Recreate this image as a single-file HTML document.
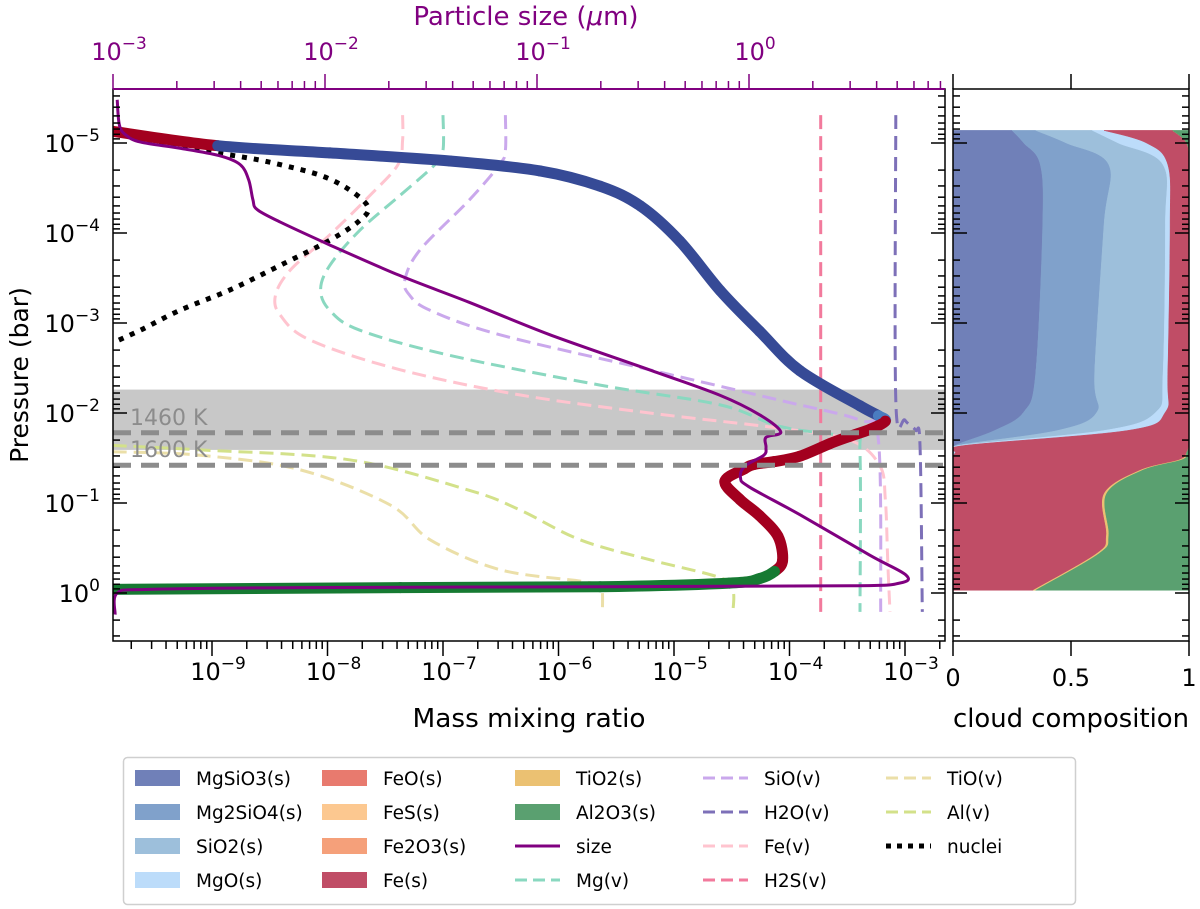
<!DOCTYPE html>
<html><head><meta charset="utf-8">
<style>
html,body{margin:0;padding:0;background:#fff;}
svg{display:block;font-family:"DejaVu Sans","Liberation Sans",sans-serif;}
</style></head>
<body>
<svg id="chart" width="1200" height="909" viewBox="0 0 1200 909" xmlns="http://www.w3.org/2000/svg">
<defs>
<clipPath id="mainclip"><rect x="113" y="89" width="832" height="552"/></clipPath>
<clipPath id="rightclip"><rect x="953" y="89" width="236" height="552"/></clipPath>
</defs>
<g id="main" clip-path="url(#mainclip)"></g>
<g id="right" clip-path="url(#rightclip)"></g>
<g id="axes"></g>
<text x="529" y="727" font-size="26" text-anchor="middle" textLength="233" lengthAdjust="spacingAndGlyphs">Mass mixing ratio</text>
<text x="1071" y="727" font-size="26" text-anchor="middle" textLength="236" lengthAdjust="spacingAndGlyphs">cloud composition</text>
<text x="526" y="25" font-size="26" text-anchor="middle" fill="#800080">Particle size (<tspan font-style="italic">μ</tspan>m)</text>
<text transform="translate(28,375) rotate(-90)" font-size="25" text-anchor="middle">Pressure (bar)</text>
<g id="legend"></g>
</svg>
<script>
// ---------- data (log10 values) ----------
const cloudLogX = [-9.86,-8.95,-7.98,-6.94,-6.16,-5.64,-5.29,-4.95,-4.60,-4.26,-3.91,-3.39,-3.23,-3.17,-3.30,-3.48,-3.65,-3.91,-4.13,-4.30,-4.39,-4.56,-4.43,-4.26,-4.10,-4.06,-4.13,-4.26,-4.52,-5.64,-7.37,-9.86];
const cloudLogP = [-5.13,-4.97,-4.89,-4.80,-4.69,-4.52,-4.30,-3.91,-3.36,-2.91,-2.47,-2.08,-1.97,-1.91,-1.82,-1.74,-1.66,-1.52,-1.46,-1.43,-1.38,-1.24,-1.04,-0.86,-0.63,-0.36,-0.24,-0.16,-0.11,-0.07,-0.06,-0.04];
const cloudPhase = ["Fe","MgSiO3","MgSiO3","MgSiO3","MgSiO3","MgSiO3","MgSiO3","MgSiO3","MgSiO3","MgSiO3","MgSiO3","MgSiO3","Mg2SiO4","Fe","Fe","Fe","Fe","Fe","Fe","Fe","Fe","Fe","Fe","Fe","Fe","Fe","Al2O3","Al2O3","Al2O3","Al2O3","Al2O3","Al2O3"];
const sizeLogS = [-2.98,-2.97,-2.94,-2.87,-2.68,-2.50,-2.40,-2.36,-2.34,-2.32,-2.21,-1.98,-1.65,-1.32,-0.94,-0.47,-0.14,0.05,0.15,0.08,0.08,0.07,-0.02,-0.04,0.00,0.24,0.57,0.74,0.71,0.48,-0.70,-2.12,-2.83,-2.98,-2.99];
const sizeLogP = [-5.48,-5.20,-5.09,-5.01,-4.94,-4.86,-4.76,-4.59,-4.37,-4.26,-4.12,-3.87,-3.53,-3.23,-2.87,-2.48,-2.20,-1.98,-1.79,-1.73,-1.62,-1.53,-1.41,-1.28,-1.18,-0.87,-0.42,-0.20,-0.11,-0.08,-0.07,-0.06,-0.04,0.00,0.24];
const nucLogX = [-9.86,-9.54,-9.10,-8.67,-8.41,-8.06,-7.81,-7.65,-7.72,-7.98,-8.41,-8.84,-9.28,-9.62,-9.86];
const nucLogP = [-5.14,-5.03,-4.92,-4.83,-4.76,-4.64,-4.48,-4.29,-4.14,-3.92,-3.64,-3.37,-3.14,-2.92,-2.78];
const feLogX = [-7.35,-7.35,-7.39,-7.63,-7.98,-8.32,-8.45,-8.41,-8.15,-7.37,-6.33,-5.21,-4.08,-3.48,-3.22,-3.17,-3.15,-3.13];
const feLogP = [-5.31,-5.03,-4.76,-4.42,-3.98,-3.59,-3.31,-3.09,-2.81,-2.48,-2.20,-2.00,-1.83,-1.70,-1.42,-1.03,-0.37,0.21];
const mgLogX = [-7.00,-7.00,-7.07,-7.37,-7.72,-7.98,-8.06,-7.98,-7.72,-6.94,-5.64,-4.60,-4.08,-3.45,-3.39,-3.39];
const mgLogP = [-5.31,-4.92,-4.76,-4.42,-4.03,-3.64,-3.37,-3.14,-2.92,-2.64,-2.31,-2.09,-1.85,-1.72,-1.55,0.21];
const sioLogX = [-6.46,-6.46,-6.51,-6.77,-7.20,-7.33,-7.29,-7.11,-6.51,-5.21,-4.08,-3.39,-3.23,-3.21];
const sioLogP = [-5.31,-4.92,-4.76,-4.37,-3.81,-3.48,-3.31,-3.14,-2.87,-2.48,-2.14,-1.92,-1.70,0.21];
const h2oLogX = [-3.08,-3.08,-3.00,-2.91,-2.87,-2.85];
const h2oLogP = [-5.31,-2.14,-1.92,-1.81,-1.64,0.21];
const h2sLogX = [-3.73,-3.73];
const h2sLogP = [-5.31,0.21];
const tioLogX = [-9.86,-9.10,-8.24,-7.46,-7.11,-6.51,-5.80,-5.64,-5.62,-5.62];
const tioLogP = [-1.57,-1.53,-1.37,-0.98,-0.59,-0.26,-0.13,-0.08,0.00,0.21];
const alLogX = [-9.86,-9.10,-7.81,-6.77,-6.33,-5.81,-5.21,-4.60,-4.49,-4.49];
const alLogP = [-1.64,-1.59,-1.48,-1.14,-0.92,-0.59,-0.37,-0.17,-0.03,0.21];
const bandLogP = [-2.26,-1.59];
const isothermLogP = [-1.78,-1.42];
const isothermLabels = ["1460 K","1600 K"];
// composition panel
const compLogP = [-5.14,-5.00,-4.76,-4.09,-2.43,-2.01,-1.81,-1.64,-1.56,-1.48,-1.36,-1.10,-0.64,-0.44,-0.03];
const fMgSiO3 = [0.25,0.30,0.37,0.38,0.35,0.30,0.18,0.01,0,0,0,0,0,0,0];
const fMg2SiO4 = [0.10,0.18,0.29,0.26,0.25,0.31,0.27,0.01,0,0,0,0,0,0,0];
const fSiO2 = [0.24,0.22,0.23,0.26,0.29,0.25,0.20,0.01,0.005,0,0,0,0,0,0];
const fMgO = [0.05,0.12,0.02,0.02,0.02,0.04,0.10,0.02,0.005,0,0,0,0,0,0];
const fFe = [0.29,0.17,0.09,0.08,0.09,0.10,0.25,0.95,0.98,0.96,0.79,0.64,0.65,0.61,0.34];
const fTiO2 = [0,0,0,0,0,0,0,0,0,0.01,0.01,0.01,0.01,0.01,0.01];
const fAl2O3 = [0.07,0.01,0,0,0,0,0,0,0.01,0.03,0.20,0.35,0.34,0.38,0.65];
// ticks
const xMajor = [-9,-8,-7,-6,-5,-4,-3];
const xTickLabels = ["\u22129","\u22128","\u22127","\u22126","\u22125","\u22124","\u22123"];
const yMajor = [-5,-4,-3,-2,-1,0];
const yTickLabels = ["\u22125","\u22124","\u22123","\u22122","\u22121","0"];
const sMajor = [-3,-2,-1,0];
const sTickLabels = ["\u22123","\u22122","\u22121","0"];
const cTicks = [0,0.5,1];
const cTickLabels = ["0","0.5","1"];

// ---------- axis functions ----------
const X = v => 905 + (v + 3) * 115.5;
const Y = v => 143 + (v + 5) * 90;
const S = v => 113 + (v + 3) * 212;
const C = f => 953 + f * 236;
const NS = "http://www.w3.org/2000/svg";
function mk(tag, attrs, parent){const e=document.createElementNS(NS,tag);for(const k in attrs)e.setAttribute(k,attrs[k]);parent.appendChild(e);return e;}
function smooth(pts){
  if(pts.length<3) return "M"+pts.map(p=>p[0].toFixed(1)+","+p[1].toFixed(1)).join("L");
  let d="M"+pts[0][0].toFixed(1)+","+pts[0][1].toFixed(1);
  for(let i=0;i<pts.length-1;i++){
    const p0=pts[Math.max(i-1,0)],p1=pts[i],p2=pts[i+1],p3=pts[Math.min(i+2,pts.length-1)];
    const c1=[p1[0]+(p2[0]-p0[0])/6,p1[1]+(p2[1]-p0[1])/6];
    const c2=[p2[0]-(p3[0]-p1[0])/6,p2[1]-(p3[1]-p1[1])/6];
    d+="C"+c1[0].toFixed(1)+","+c1[1].toFixed(1)+" "+c2[0].toFixed(1)+","+c2[1].toFixed(1)+" "+p2[0].toFixed(1)+","+p2[1].toFixed(1);
  }
  return d;
}
const main=document.getElementById("main"), right=document.getElementById("right"), axes=document.getElementById("axes"), legend=document.getElementById("legend");

// band & isotherms
const band=mk("rect",{x:113,y:Y(bandLogP[0]),width:832,height:Y(bandLogP[1])-Y(bandLogP[0]),fill:"#c8c8c8"},main);



function line(xs,ps,fx,color,w,dash,name){
  const pts=xs.map((v,i)=>[fx(v),Y(ps[i])]);
  const p=mk("path",{d:smooth(pts),fill:"none",stroke:color,"stroke-width":w},main);
  if(dash)p.setAttribute("stroke-dasharray",dash);
  
  
  return p;
}
line(tioLogX,tioLogP,X,"#ebdfa8",3,"14,7","tio-vapor-line");
line(alLogX,alLogP,X,"#d3e18a",3,"14,7","al-vapor-line");
line(feLogX,feLogP,X,"#ffc4cf",3,"14,7","fe-vapor-line");
line(mgLogX,mgLogP,X,"#8ad8c0",3,"14,7","mg-vapor-line");
line(sioLogX,sioLogP,X,"#caa8ec",3,"14,7","sio-vapor-line");
line(h2oLogX,h2oLogP,X,"#7d70b8",3,"14,7","h2o-vapor-line");
line(h2sLogX,h2sLogP,X,"#f27a9c",3,"14,7","h2s-vapor-line");
line(nucLogX,nucLogP,X,"#000",5,"5,7","nuclei-line");

// cloud mass thick line coloured by phase
const phaseColor={Fe:"#a3001f",MgSiO3:"#364a96",Mg2SiO4:"#4a7cc0",Al2O3:"#167a32"};
for(let i=0;i<cloudLogX.length-1;i++){
  const pts=[];
  for(let j=Math.max(i-1,0);j<=Math.min(i+2,cloudLogX.length-1);j++)pts.push([X(cloudLogX[j]),Y(cloudLogP[j])]);
  const off=i>0?1:0;
  const p0=pts[Math.max(off-1,0)],p1=pts[off],p2=pts[off+1],p3=pts[Math.min(off+2,pts.length-1)];
  const c1=[p1[0]+(p2[0]-p0[0])/6,p1[1]+(p2[1]-p0[1])/6],c2=[p2[0]-(p3[0]-p1[0])/6,p2[1]-(p3[1]-p1[1])/6];
  const seg=mk("path",{d:`M${p1[0]},${p1[1]}C${c1[0]},${c1[1]} ${c2[0]},${c2[1]} ${p2[0]},${p2[1]}`,fill:"none",stroke:phaseColor[cloudPhase[i]],"stroke-width":11,"stroke-linecap":"round"},main);
  
  
}
line(sizeLogS,sizeLogP,S,"#800080",3,null,"particle-size-line");

isothermLogP.forEach((v,i)=>{
  const l=mk("line",{x1:113,x2:945,y1:Y(v),y2:Y(v),stroke:"#8c8c8c","stroke-width":5,"stroke-dasharray":"18,10"},main);
  
  
  const t=mk("text",{x:130,y:Y(v)-8,"font-size":22,fill:"#8c8c8c"},main);
  t.textContent=isothermLabels[i];
  
  
});

// composition stacked areas
const species=[["MgSiO3",fMgSiO3,"#7080b8"],["Mg2SiO4",fMg2SiO4,"#80a1cb"],["SiO2",fSiO2,"#9dbfdb"],["MgO",fMgO,"#bcdcfa"],["Fe",fFe,"#c04d66"],["TiO2",fTiO2,"#ebc172"],["Al2O3",fAl2O3,"#5aa070"]];
let cum=compLogP.map(()=>0);
species.forEach(([name,arr,col])=>{
  const lo=cum.slice(); cum=cum.map((c,i)=>c+arr[i]);
  const hiPts=cum.map((c,i)=>[C(Math.min(c,1)),Y(compLogP[i])]);
  const loPts=lo.map((c,i)=>[C(Math.min(c,1)),Y(compLogP[i])]).reverse();
  let d=smooth(hiPts);
  d+="L"+smooth(loPts).slice(1)+"Z";
  const p=mk("path",{d:d,fill:col,stroke:col,"stroke-width":0.5},right);
  
  
});

// ---------- axes ----------
function ax(tag,attrs){const e=mk(tag,attrs,axes);return e;}
const frames=[[113,89,832,552,"main-frame"],[953,89,236,552,"composition-frame"]];
frames.forEach(f=>{const r=ax("rect",{x:f[0],y:f[1],width:f[2],height:f[3],fill:"none",stroke:"#000","stroke-width":1.5});});
const topSpine=ax("line",{x1:113,x2:945,y1:89,y2:89,stroke:"#800080","stroke-width":2});


function tk(x1,y1,x2,y2,col){const l=ax("line",{x1,y1,x2,y2,stroke:col||"#000","stroke-width":1.5});}
function pow(x,y,exp,col,anchor){
  const t=ax("text",{x,y,"font-size":24,"text-anchor":anchor||"middle",fill:col||"#000"});
  t.innerHTML=`10<tspan dy="-11" font-size="17">${exp}</tspan>`;
  
  
  return t;
}
// x ticks (bottom)
for(let d=-10;d<=-3;d++){for(let m=1;m<10;m++){const v=d+Math.log10(m);const px=X(v);if(px<113||px>945)continue;tk(px,641,px,641+(m==1?15:8));}}
xMajor.forEach((v,i)=>pow(X(v)+6,680,xTickLabels[i]));
// y ticks
for(let d=-6;d<=0;d++){for(let m=1;m<10;m++){const v=d+Math.log10(m);const py=Y(v);if(py<89||py>641)continue;const L=m==1?14:7;tk(113,py,113+L,py);tk(945,py,945-L,py);tk(953,py,953+L,py);tk(1189,py,1189-L,py);}}
yMajor.forEach((v,i)=>pow(100,Y(v)+9,yTickLabels[i],"#000","end"));
// top ticks
for(let d=-3;d<=0;d++){for(let m=1;m<10;m++){const v=d+Math.log10(m);const px=S(v);if(px<113||px>945)continue;tk(px,89,px,89-(m==1?15:8),"#800080");}}
sMajor.forEach((v,i)=>pow(S(v)+6,60,sTickLabels[i],"#800080"));
// composition ticks
cTicks.forEach((v,i)=>{tk(C(v),641,C(v),656);tk(C(v),89,C(v),74);const t=ax("text",{x:C(v),y:686,"font-size":24,"text-anchor":"middle"});t.textContent=cTickLabels[i];});

// ---------- legend ----------
const lb=mk("rect",{x:123.5,y:757.5,width:952,height:147,rx:4,fill:"#fff",stroke:"#cfcfcf","stroke-width":1.5},legend);


const legendItems=[
 ["MgSiO3(s)","patch","#7080b8"],["Mg2SiO4(s)","patch","#80a1cb"],["SiO2(s)","patch","#9dbfdb"],["MgO(s)","patch","#bcdcfa"],
 ["FeO(s)","patch","#e87a6e"],["FeS(s)","patch","#fcc890"],["Fe2O3(s)","patch","#f5a07a"],["Fe(s)","patch","#c04d66"],
 ["TiO2(s)","patch","#ebc172"],["Al2O3(s)","patch","#5aa070"],["size","solid","#800080"],["Mg(v)","dash","#8ad8c0"],
 ["SiO(v)","dash","#caa8ec"],["H2O(v)","dash","#7d70b8"],["Fe(v)","dash","#ffc4cf"],["H2S(v)","dash","#f27a9c"],
 ["TiO(v)","dash","#ebdfa8"],["Al(v)","dash","#d3e18a"],["nuclei","dot","#000"]];
const colX=[135,322,515,703,886], rowY=[778,812,846,880];
legendItems.forEach((it,i)=>{
  const c=Math.floor(i/4), r=i%4, x=colX[c], y=rowY[r];
  const g=mk("g",{},legend);
  
  
  if(it[1]=="patch") mk("rect",{x:x,y:y-8,width:45,height:16,fill:it[2]},g);
  else mk("line",{x1:x,x2:x+45,y1:y,y2:y,stroke:it[2],"stroke-width":it[1]=="dot"?5:3,"stroke-dasharray":it[1]=="dash"?"12,6":(it[1]=="dot"?"5,6":"none")},g);
  const t=mk("text",{x:x+61,y:y+7,"font-size":18.5},g);
  t.textContent=it[0];
});
</script>
</body></html>
